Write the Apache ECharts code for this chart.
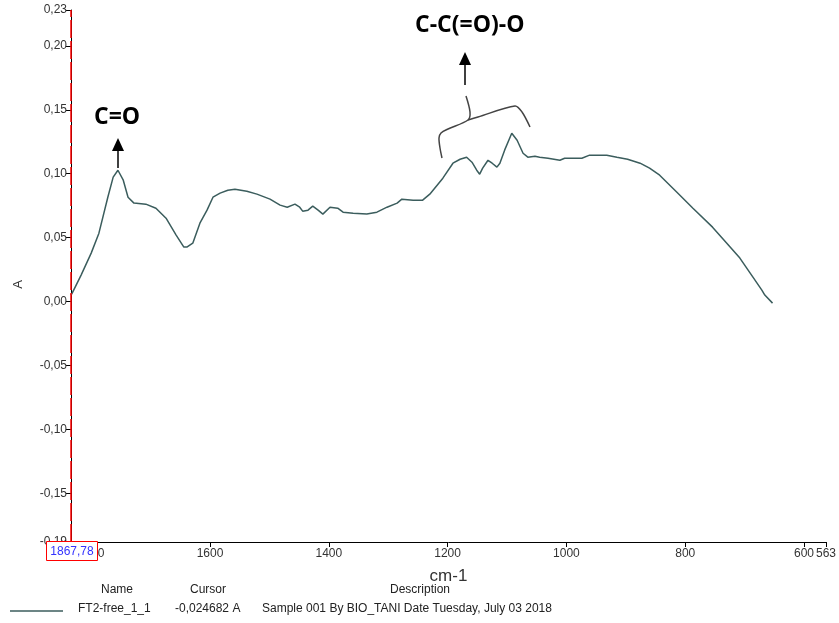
<!DOCTYPE html>
<html>
<head>
<meta charset="utf-8">
<script src="https://cdn.jsdelivr.net/npm/echarts@6/dist/echarts.min.js"></script>
<style>
html,body{margin:0;padding:0;background:#fff;}
#c{width:839px;height:623px;}
</style>
</head>
<body>
<div id="c"></div>
<script>
// Wavenumbers (cm-1) and absorbance
var wavenumbers = [1834,1832,1817,1800,1787,1772,1763,1755,1746,1738,1728,1708,1691,1674,1657,1644,1639,1629,1617,1605,1595,1583,1570,1558,1538,1521,1499,1482,1470,1457,1449,1444,1435,1427,1418,1410,1398,1385,1376,1359,1336,1319,1302,1285,1277,1258,1242,1230,1208,1191,1179,1168,1159,1151,1146,1141,1132,1125,1117,1112,1104,1092,1083,1073,1065,1053,1045,1031,1011,1003,974,961,932,915,897,876,860,843,814,787,754,730,708,686,671,666,653];
var absorbance = [0.005,0.0066,0.0207,0.0379,0.0535,0.0816,0.0973,0.1027,0.0949,0.0816,0.0770,0.0762,0.0730,0.0652,0.0520,0.0426,0.0426,0.0457,0.0613,0.0715,0.0816,0.0848,0.0871,0.0879,0.0863,0.0840,0.0801,0.0754,0.0738,0.0762,0.0738,0.0707,0.0715,0.0746,0.0715,0.0684,0.0738,0.0730,0.0699,0.0691,0.0684,0.0699,0.0738,0.0770,0.0801,0.0793,0.0793,0.0840,0.0965,0.1082,0.1113,0.1129,0.1090,0.1027,0.0996,0.1043,0.1105,0.1082,0.1051,0.1082,0.1184,0.1316,0.1262,0.1160,0.1129,0.1137,0.1129,0.1121,0.1105,0.1121,0.1121,0.1145,0.1145,0.1129,0.1113,0.1082,0.1043,0.0988,0.0855,0.0730,0.0582,0.0457,0.0340,0.0191,0.0090,0.0051,-0.0012];
// Axis ranges and tick labels
var xRange = [563, 1834];
var xTicks = [1800,1600,1400,1200,1000,800,600,563];
var yRange = [-0.188, 0.228];
var yTicks = [-0.188,-0.15,-0.10,-0.05,0,0.05,0.10,0.15,0.20,0.228];
// Annotation / legend texts
var peakLabels = ["C=O", "C-C(=O)-O"];
var legendHeaders = ["Name", "Cursor", "Description"];
var legendRow = ["FT2-free_1_1", "-0,024682 A", "Sample 001 By BIO_TANI Date Tuesday, July 03 2018"];
var cursorValue = "1867,78";

var data = wavenumbers.map(function(w,i){return [w, absorbance[i]];});
var chart = echarts.init(document.getElementById('c'));
var font = 'Liberation Sans, Arial, sans-serif';
var boldFont = 'Open Sans, Liberation Sans, sans-serif';
chart.setOption({
  animation:false,
  backgroundColor:'#fff',
  grid:{left:71,right:13,top:10,bottom:81,containLabel:false,outerBoundsMode:'none'},
  xAxis:{
    type:'value', inverse:true, min:xRange[0], max:xRange[1],
    axisLine:{show:true,onZero:false,lineStyle:{color:'#000',width:1}},
    axisTick:{show:true,customValues:xTicks,length:5,lineStyle:{color:'#000'}},
    axisLabel:{customValues:xTicks,color:'#333',fontFamily:font,fontSize:12,margin:6,
      formatter:function(v){return String(v);}},
    splitLine:{show:false},
    name:'cm-1', nameLocation:'middle', nameGap:26,
    nameTextStyle:{color:'#333',fontFamily:font,fontSize:17}
  },
  yAxis:{
    type:'value', min:yRange[0], max:yRange[1],
    axisLine:{show:true,onZero:false,lineStyle:{color:'#000',width:1}},
    axisTick:{show:true,customValues:yTicks,length:5,lineStyle:{color:'#000'}},
    axisLabel:{customValues:yTicks,color:'#333',fontFamily:font,fontSize:12,margin:4,
      formatter:function(v){return v.toFixed(2).replace('.',',');}},
    splitLine:{show:false}
  },
  series:[{
    type:'line', data:data, showSymbol:false, smooth:false,
    lineStyle:{color:'#3b5d5d',width:1.5},
    markLine:{silent:true,symbol:'none',label:{show:false},
      lineStyle:{color:'#ff0000',type:[18,3],width:1.5},
      data:[{xAxis:xRange[1]}]}
  }],
  graphic:[
    {type:'text',left:12,top:280,rotation:Math.PI/2,style:{text:'A',font:'13px '+font,fill:'#333'}},
    // cursor box
    {type:'group',left:46,top:541,z:100,children:[
      {type:'rect',z:100,shape:{x:0,y:0,width:51,height:19},style:{fill:'#fff',stroke:'#ff0000',lineWidth:1}},
      {type:'text',z:101,x:25.5,y:10,style:{text:cursorValue,font:'12px '+font,fill:'#3333ff',align:'center',verticalAlign:'middle'}}
    ]},
    // annotations
    {type:'text',left:94,top:106,style:{text:peakLabels[0],font:'bold 23px '+boldFont,fill:'#000'}},
    {type:'line',shape:{x1:118,y1:168,x2:118,y2:150},style:{stroke:'#000',lineWidth:1.5}},
    {type:'polygon',shape:{points:[[112,151],[124,151],[118,138]]},style:{fill:'#000'}},
    {type:'text',left:415,top:14,style:{text:peakLabels[1],font:'bold 23px '+boldFont,fill:'#000'}},
    {type:'line',shape:{x1:465,y1:85,x2:465,y2:64},style:{stroke:'#000',lineWidth:1.5}},
    {type:'polygon',shape:{points:[[459,65],[471,65],[465,52]]},style:{fill:'#000'}},
    {type:'polyline',shape:{points:[[442,158],[440,148],[439,138],[441,133],[448,129],[468,120],[470,112],[466,96]],smooth:0.3},style:{stroke:'#444',lineWidth:1.5,fill:null}},
    {type:'polyline',shape:{points:[[468,120],[478,117],[515,106],[522,112],[530,127]],smooth:0.3},style:{stroke:'#444',lineWidth:1.5,fill:null}},
    // legend table
    {type:'text',left:101,top:584,style:{text:legendHeaders[0],font:'12px '+font,fill:'#222'}},
    {type:'text',left:190,top:584,style:{text:legendHeaders[1],font:'12px '+font,fill:'#222'}},
    {type:'text',left:390,top:584,style:{text:legendHeaders[2],font:'12px '+font,fill:'#222'}},
    {type:'line',shape:{x1:10,y1:611,x2:63,y2:611},style:{stroke:'#3b5d5d',lineWidth:1.5}},
    {type:'text',left:78,top:603,style:{text:legendRow[0],font:'12px '+font,fill:'#222'}},
    {type:'text',left:175,top:603,style:{text:legendRow[1],font:'12px '+font,fill:'#222'}},
    {type:'text',left:262,top:603,style:{text:legendRow[2],font:'12px '+font,fill:'#222'}}
  ]
});
</script>
</body>
</html>
